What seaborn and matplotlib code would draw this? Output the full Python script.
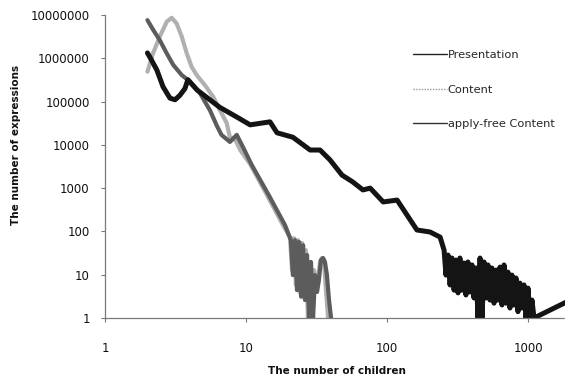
import matplotlib
matplotlib.use("Agg")
import matplotlib.pyplot as plt
from matplotlib.lines import Line2D
import seaborn as sns
import pandas as pd

# ---- data ----
pres_x = [2.0, 2.085, 2.33, 2.58, 2.89, 3.14, 3.4, 3.69, 3.87, 4.5, 6.5, 8.6, 10.7, 14.8,
          16.6, 21.5, 28.5, 33.5, 39.4, 48, 57, 67.5, 76, 94, 118, 163, 202, 238,
          254, 262, 271, 280, 289, 299, 308, 319, 329, 340, 352, 363, 375, 388, 401,
          414, 428, 442, 457, 472, 488, 504, 520, 537, 555, 574, 593, 613, 633, 654,
          676, 698, 721, 745, 770, 796, 822, 849, 877, 906, 937, 968, 1000, 1033,
          1067, 1103, 2000]
pres_y = [1.33e6, 1.05e6, 5.4e5, 2.2e5, 1.2e5, 1.1e5, 1.4e5, 2.0e5, 3.2e5, 1.85e5, 7.4e4,
          4.4e4, 2.9e4, 3.4e4, 1.9e4, 1.5e4, 7.6e3, 7.6e3, 4.5e3, 2.0e3, 1.4e3, 910, 1000,
          480, 530, 108, 97, 74,
          37, 9.8, 28.5, 5.8, 24.3, 4.4, 21.8, 3.8, 24.3, 4.4, 18.6, 3.4, 19.7, 4.0, 16.8,
          2.9, 14.3, 1, 24.3, 1, 19.7, 2.9, 16.8, 2.6, 14.3, 2.2, 12.8, 2.6, 15, 2.0,
          16.8, 2.2, 11.5, 1.7, 9.8, 2.0, 8.4, 1.4, 6.4, 1.7, 5.8, 1, 4.9, 1,
          2.6, 1, 2.6]

cont_x = [2.0, 2.19, 2.45, 2.74, 2.97, 3.22, 3.5, 3.8, 4.12, 4.47, 5.11, 5.87, 6.54, 7.29,
          7.69, 8.4, 9.1, 10.7, 14.1, 18.3,
          20.5, 21.2, 21.9, 22.6, 23.4, 24.2, 25.0, 25.8, 26.6, 27.5, 28.4, 29.4, 30.4,
          31.4, 32.4, 33.5, 34.6, 35.7, 36.9, 38.2]
cont_y = [4.9e5, 1.3e6, 3.2e6, 7.0e6, 8.6e6, 6.4e6, 3.2e6, 1.3e6, 6.3e5, 4.1e5, 2.4e5,
          1.27e5, 6.3e4, 3.2e4, 1.5e4, 1.3e4, 7.6e3, 3.6e3, 690, 140,
          74, 12.8, 70, 5.8, 63, 3.8, 54, 3.1, 37, 1, 19.7, 1, 12.8,
          4.4, 7.5, 19.7, 24.3, 21.8, 4.4, 1]

afree_x = [2.0, 2.2, 2.45, 2.74, 3.05, 3.5, 4.0, 4.7, 5.55, 6.2, 6.7, 7.69, 8.6, 9.5,
           11.0, 14.5, 18.9,
           20.8, 21.5, 22.3, 23.0, 23.8, 24.6, 25.4, 26.2, 27.1, 28.0, 28.9, 29.9, 30.9,
           31.9, 32.9, 34.0, 35.2, 36.3, 37.5, 38.8, 40.1]
afree_y = [7.6e6, 4.5e6, 2.6e6, 1.3e6, 7.0e5, 4.1e5, 2.9e5, 1.6e5, 6.3e4, 2.8e4, 1.7e4,
           1.17e4, 1.7e4, 9.0e3, 3.4e3, 690, 140,
           63, 9.8, 63, 4.4, 57, 3.1, 48, 2.6, 28.5, 1, 19.7, 1, 9.8,
           4.0, 7.5, 21.8, 24.3, 19.7, 9.8, 2.6, 1]

series_names = ["Presentation", "Content", "apply-free Content"]
x_ticks = [1, 10, 100, 1000]
x_tick_labels = ["1", "10", "100", "1000"]
y_ticks = [1, 10, 100, 1000, 10000, 100000, 1000000, 10000000]
y_tick_labels = ["1", "10", "100", "1000", "10000", "100000", "1000000", "10000000"]

df_p = pd.DataFrame({"x": pres_x, "y": pres_y})
df_c = pd.DataFrame({"x": cont_x, "y": cont_y})
df_a = pd.DataFrame({"x": afree_x, "y": afree_y})

sns.set_theme(style="white")
plt.rcParams["font.family"] = ["DejaVu Sans"]

fig = plt.figure(figsize=(5.65, 3.82), dpi=100)
ax = fig.add_axes([105 / 565, 1 - 318 / 382, (565 - 105) / 565, (318 - 15) / 382])

col_p = "#141414"
col_c = "#b0b0b0"
col_a = "#5c5c5c"

sns.lineplot(data=df_c, x="x", y="y", ax=ax, color=col_c, lw=3.0, estimator=None, sort=False)
sns.lineplot(data=df_a, x="x", y="y", ax=ax, color=col_a, lw=3.0, estimator=None, sort=False)
sns.lineplot(data=df_p, x="x", y="y", ax=ax, color=col_p, lw=3.6, estimator=None, sort=False)
for ln in ax.lines:
    ln.set_solid_joinstyle("round")
    ln.set_solid_capstyle("round")

ax.set_xscale("log")
ax.set_yscale("log")
ax.set_xlim(1, 1830)
ax.set_ylim(1, 1e7)

ax.set_xticks(x_ticks)
ax.set_xticklabels(x_tick_labels)
ax.set_yticks(y_ticks)
ax.set_yticklabels(y_tick_labels)
ax.minorticks_off()

for s in ["top", "right"]:
    ax.spines[s].set_visible(False)
for s in ["left", "bottom"]:
    ax.spines[s].set_color("#7a7a7a")
    ax.spines[s].set_linewidth(0.9)
    ax.spines[s].set_linestyle((0, (1, 1)))

ax.tick_params(axis="y", which="major", length=3, width=0.8, color="#7a7a7a",
               pad=8, labelsize=8.5, left=True, labelcolor="#111")
ax.tick_params(axis="x", which="major", length=3, width=0.8, color="#7a7a7a",
               pad=14, labelsize=8.5, bottom=True, labelcolor="#111")

ax.set_xlabel("The number of children", fontsize=7.5, fontweight="bold", color="#111")
ax.set_ylabel("The number of expressions", fontsize=7.5, fontweight="bold", color="#111")
ax.xaxis.set_label_coords(0.504, -0.16)
ax.yaxis.set_label_coords(-0.183, 0.571)

handles = [
    Line2D([0], [0], color="#222", lw=1.0),
    Line2D([0], [0], color="#999", lw=1.0, ls=(0, (1, 1))),
    Line2D([0], [0], color="#333", lw=1.0),
]
fig.legend(handles, series_names, loc="upper left", bbox_to_anchor=(413 / 565, 1 - 50 / 382),
           frameon=False, fontsize=8.2, handlelength=3.0, handletextpad=0.05,
           labelspacing=2.16, borderpad=0, borderaxespad=0)

fig.savefig("out.png", dpi=100)
